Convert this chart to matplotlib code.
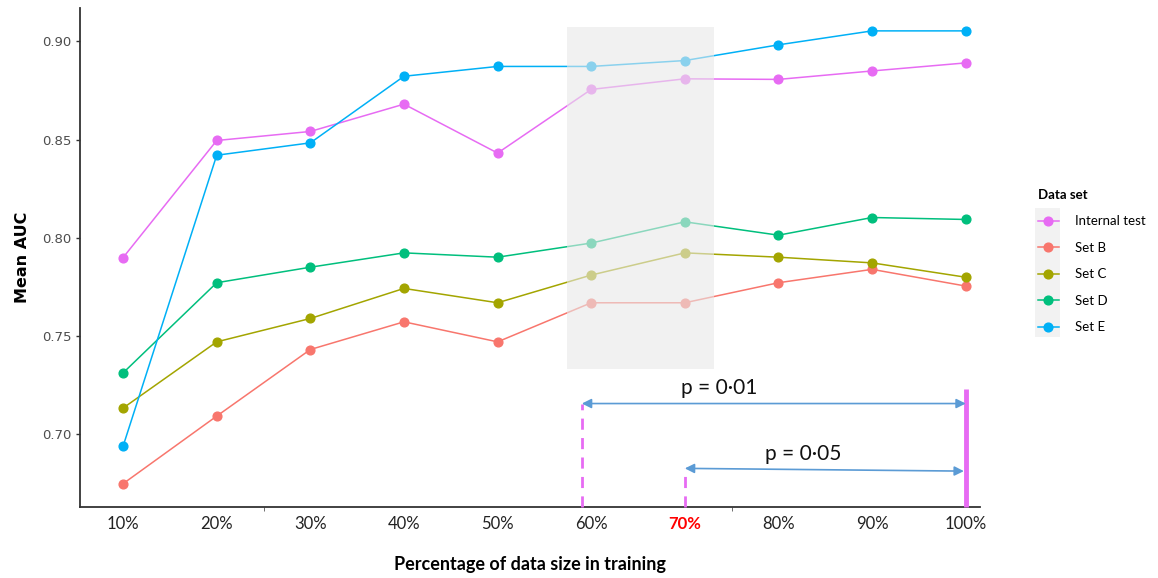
"""Mean AUC against percentage of training data, per data set."""

import matplotlib.pyplot as plt
from matplotlib.patches import Rectangle
from matplotlib.lines import Line2D

pct = [10, 20, 30, 40, 50, 60, 70, 80, 90, 100]
pct_labels = ["10%", "20%", "30%", "40%", "50%", "60%", "70%", "80%", "90%", "100%"]

internal_test = [0.790, 0.8496, 0.8542, 0.8681, 0.8432, 0.8756, 0.8810, 0.8807, 0.8850, 0.8891]
set_b = [0.6749, 0.7093, 0.7432, 0.7573, 0.7471, 0.7670, 0.7670, 0.7772, 0.7840, 0.7755]
set_c = [0.7134, 0.7471, 0.7590, 0.7743, 0.7670, 0.7811, 0.7924, 0.7902, 0.7873, 0.7800]
set_d = [0.7313, 0.7772, 0.7851, 0.7924, 0.7902, 0.7974, 0.8082, 0.8014, 0.8104, 0.8094]
set_e = [0.6940, 0.8421, 0.8484, 0.8823, 0.8873, 0.8873, 0.8903, 0.8983, 0.9054, 0.9054]

series_names = ["Internal test", "Set B", "Set C", "Set D", "Set E"]
series_values = [internal_test, set_b, set_c, set_d, set_e]
series_colors = ["#E76BF3", "#F8766D", "#A3A500", "#00BF7D", "#00B0F6"]

# highlighted window and significance brackets
shade_x = (57.4, 73.1)
shade_y = (0.7332, 0.9073)
brackets = [
    # x_start, x_end, y_start, y_end, label, label_x
    (59.0, 100.0, 0.7157, 0.7157, "p = 0\u00b701", 73.7),
    (70.0, 99.8, 0.6827, 0.6813, "p = 0\u00b705", 82.6),
]
ref_line_top = 0.7230

fig = plt.figure(figsize=(11.58, 5.78), dpi=100)
ax = fig.add_axes([0.0691, 0.1234, 0.7770, 0.8626])

for name, vals, col in zip(series_names, series_values, series_colors):
    ax.plot(pct, vals, color=col, lw=1.1, marker="o", ms=6.3, zorder=3, label=name)

ax.add_patch(Rectangle((shade_x[0], shade_y[0]), shade_x[1] - shade_x[0],
                       shade_y[1] - shade_y[0], facecolor="#e8e8e8", alpha=0.6,
                       edgecolor="none", zorder=4))

ax.set_xlim(5.4, 101.5)
ax.set_ylim(0.6632, 0.917)

# dashed markers at 60% / 70% and solid reference at 100%
ymin = ax.get_ylim()[0]
for x0, _, y0, _, _, _ in brackets:
    ax.plot([x0, x0], [ymin, y0], color="#E76BF3", lw=2, ls=(0, (4, 3)),
            zorder=5, clip_on=False)
ax.plot([100, 100], [ymin, ref_line_top], color="#E76BF3", lw=3.5, zorder=5,
        solid_capstyle="butt", clip_on=False)

for x0, x1, y0, y1, label, lx in brackets:
    ax.annotate("", xy=(x1, y1), xytext=(x0, y0),
                arrowprops=dict(arrowstyle="<|-|>", color="#5b9bd5", lw=1.2,
                                mutation_scale=14, shrinkA=0, shrinkB=0),
                zorder=6)
    ax.text(lx, (y0 + y1) / 2 + 0.003, label, ha="center", va="bottom",
            fontsize=15, family="Lato", color="#111111")

ax.set_yticks([0.70, 0.75, 0.80, 0.85, 0.90])
ax.set_yticklabels(["0.70", "0.75", "0.80", "0.85", "0.90"])
ax.tick_params(axis="y", length=3, width=1, color="#333333", labelsize=9.5,
               labelcolor="#4d4d4d", pad=3)
ax.set_xticks(pct)
ax.set_xticklabels(pct_labels, family="Lato", fontsize=12, color="#222222")
ax.tick_params(axis="x", length=0, pad=7)
ax.set_xticks([25, 75], minor=True)
ax.tick_params(axis="x", which="minor", length=3, color="#555555")
for lab in ax.get_xticklabels():
    if lab.get_text() == "70%":
        lab.set_color("#ff0000")
        lab.set_fontweight("bold")

for side in ("top", "right"):
    ax.spines[side].set_visible(False)
for side in ("left", "bottom"):
    ax.spines[side].set_color("#333333")
    ax.spines[side].set_linewidth(1.3)

ax.set_ylabel("Mean AUC", fontsize=11.5, fontweight="bold", labelpad=9)
ax.set_xlabel("Percentage of data size in training", family="Lato",
              fontsize=13, fontweight="bold", labelpad=17)

# legend with grey key background
handles = [Line2D([], [], color=c, lw=1.1, marker="o", ms=6.3) for c in series_colors]
fig.patches.append(Rectangle((1035 / 1158, 1 - 337 / 578), 25 / 1158, 129 / 578,
                             transform=fig.transFigure, facecolor="#f2f2f2",
                             edgecolor="none", zorder=0))
leg = fig.legend(handles, series_names, loc="upper left",
                 bbox_to_anchor=(1026 / 1158, 1 - 177 / 578), frameon=False,
                 title="Data set", handlelength=1.6, labelspacing=1.1,
                 handletextpad=1.2, prop={"family": "Lato", "size": 9.5})
leg.get_title().set_fontweight("bold")
leg.get_title().set_fontfamily("Lato")
leg.get_title().set_fontsize(9.5)
leg._legend_box.align = "left"

fig.savefig("out.png", dpi=100)
